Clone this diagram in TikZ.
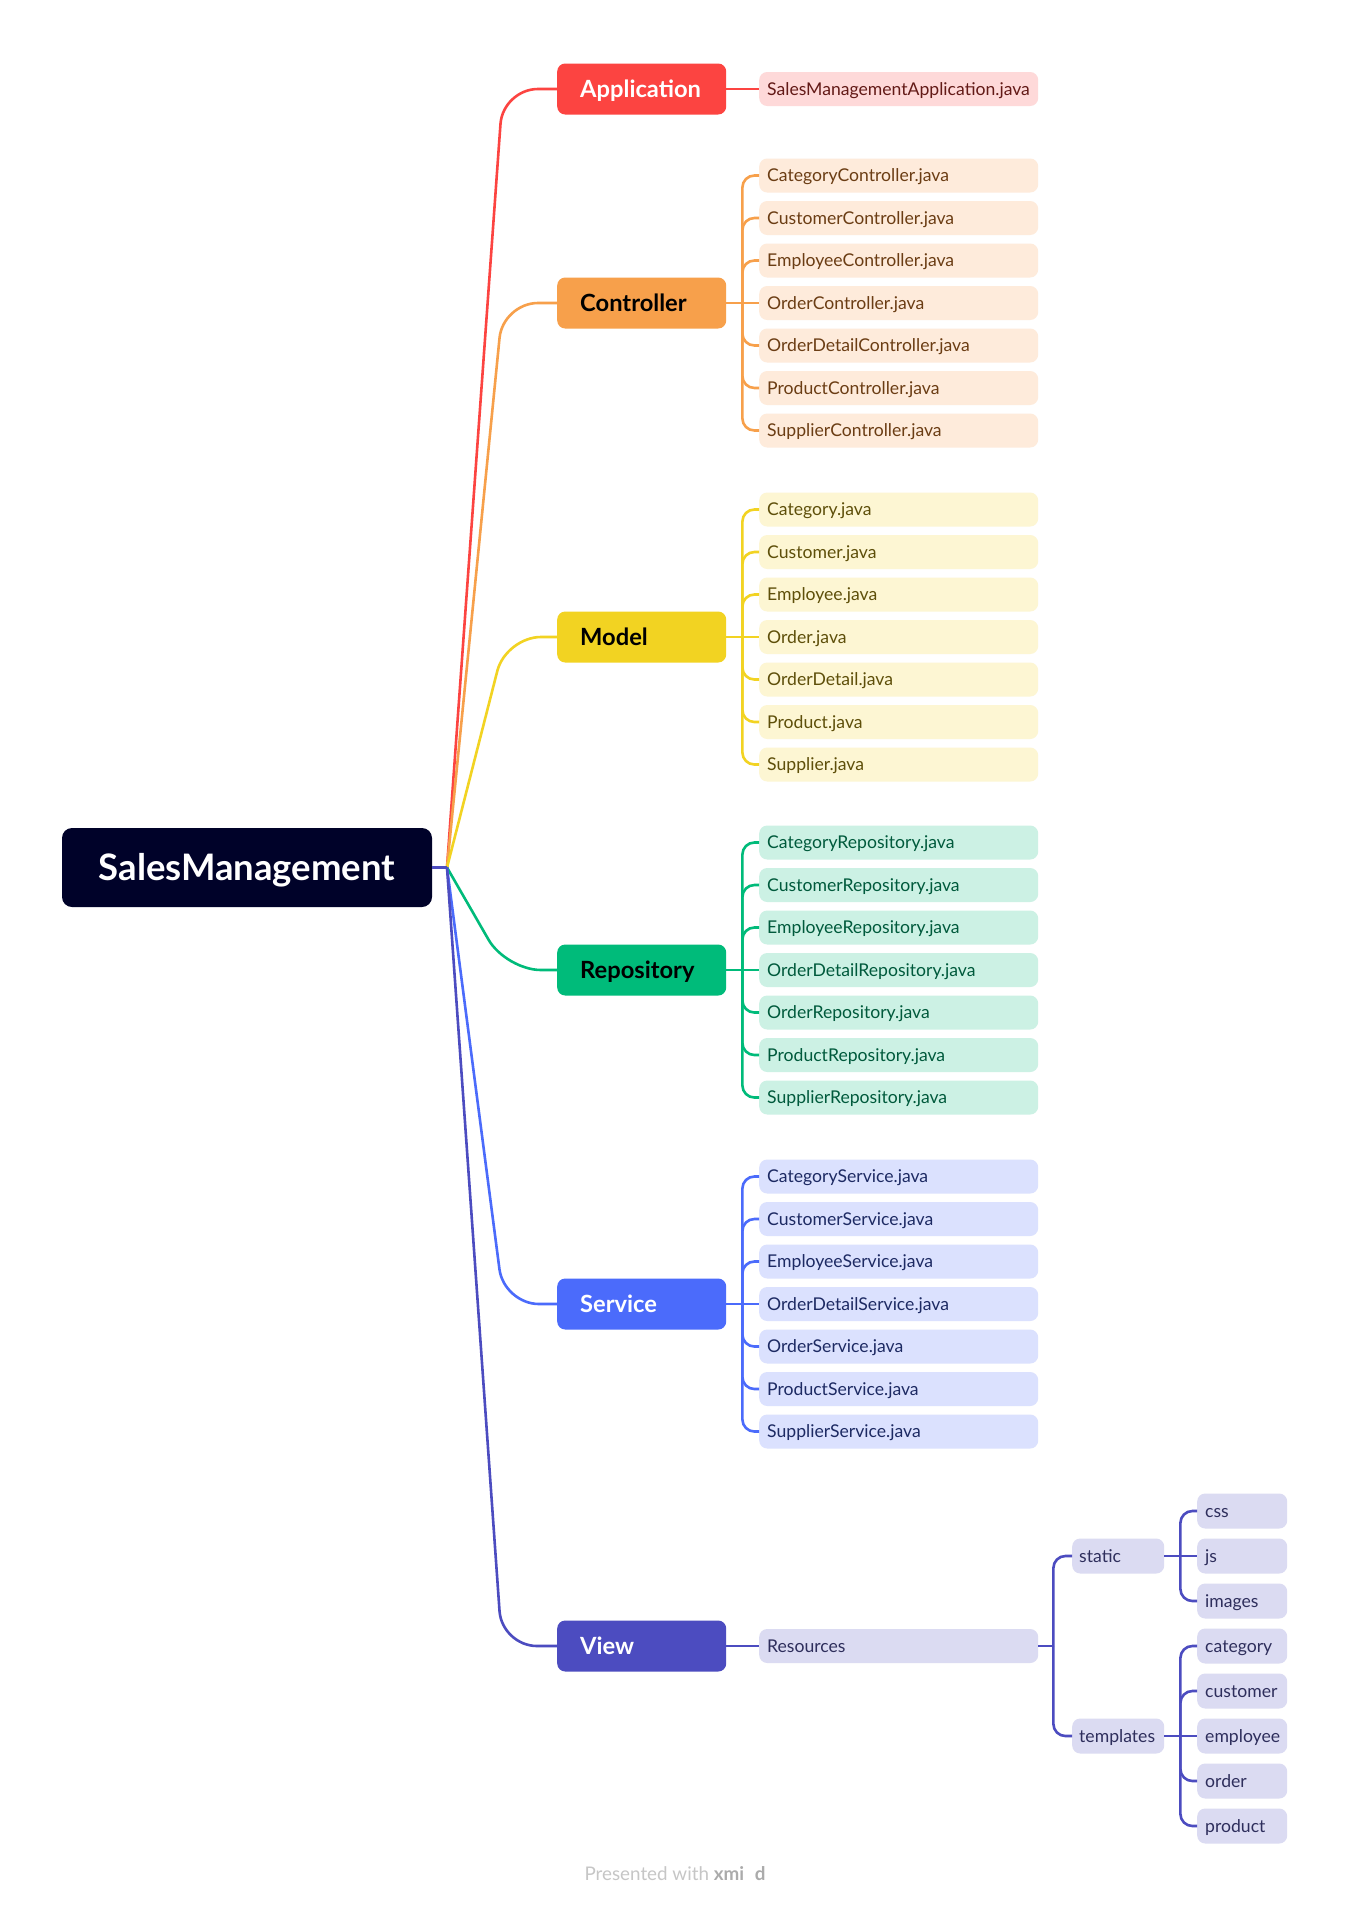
\documentclass[tikz,border=0pt]{standalone}
\usepackage{fontspec}
\setmainfont{Lato}
\usetikzlibrary{calc}

\definecolor{rootc}{HTML}{000229}
\definecolor{appc}{HTML}{FC4441}
\definecolor{appl}{HTML}{FED9D9}
\definecolor{appt}{HTML}{631A17}
\definecolor{ctrc}{HTML}{F7A04B}
\definecolor{ctrl}{HTML}{FEEBDB}
\definecolor{ctrt}{HTML}{6B3D14}
\definecolor{modc}{HTML}{F2D322}
\definecolor{modl}{HTML}{FDF6D3}
\definecolor{modt}{HTML}{5E4F0A}
\definecolor{repc}{HTML}{00BB7A}
\definecolor{repl}{HTML}{CCF1E4}
\definecolor{rept}{HTML}{005A3C}
\definecolor{serc}{HTML}{4B6BFB}
\definecolor{serl}{HTML}{DBE1FE}
\definecolor{sert}{HTML}{1D2A63}
\definecolor{vwc}{HTML}{4C4CC0}
\definecolor{vwl}{HTML}{DBDBF2}
\definecolor{vwt}{HTML}{2E2E5C}
\definecolor{footc}{HTML}{C6C6C6}
\definecolor{footb}{HTML}{ABABAB}

\newcommand{\mkgroup}[4]{%
  \coordinate (#1j) at ($(#1.east)+(16,0)$);
  \draw[twig,#3c] (#1.east) -- (#1j);
  \foreach \nm [count=\i] in {#4} {
    \node[leafbox, fill=#3l, text=#3t] (#1\i) at (759,{#2+(\i-4)*42.5}) {\nm};
    \ifnum\i=4
      \draw[twig,#3c] (#1j) -- (#1\i.west);
    \else
      \draw[twig,#3c] (#1j) |- (#1\i.west);
    \fi
  }
}

\begin{document}
\begin{tikzpicture}[x=1pt,y=-1pt,
  rootbox/.style={fill=rootc, rounded corners=10pt, minimum width=370pt,
    minimum height=79pt, inner sep=0pt, text=white,
    font=\fontsize{36.5}{40}\selectfont\bfseries, text height=26pt, text depth=0pt},
  mainbox/.style={rounded corners=8pt, minimum width=169pt, minimum height=51pt,
    inner xsep=23pt, inner ysep=0pt, text width=123pt, align=left, anchor=west,
    font=\fontsize{23.7}{26}\selectfont\bfseries, text height=17pt, text depth=0pt},
  leafbox/.style={rounded corners=8pt, minimum height=34pt, inner xsep=8pt,
    inner ysep=0pt, text width=263pt, align=left, anchor=west,
    font=\fontsize{17.6}{20}\selectfont, text height=12.6pt, text depth=0pt},
  midbox/.style={leafbox, inner xsep=7pt, text width=78pt, minimum height=35pt},
  tipbox/.style={leafbox, inner xsep=8pt, text width=74pt, minimum height=35pt},
  branch/.style={line width=2.6pt, rounded corners=35pt},
  twig/.style={line width=2.6pt, rounded corners=12pt}]

\useasboundingbox[fill=white] (0,0) rectangle (1350,1906);

% root
\node[rootbox] (root) at (247,867.5) {SalesManagement};
\coordinate (O) at (447,867.5);

% main topics
\node[mainbox, fill=appc, text=white] (app) at (557,89) {Application};
\node[mainbox, fill=ctrc, text=black] (ctr) at (557,303) {Controller};
\node[mainbox, fill=modc, text=black] (mod) at (557,637) {Model};
\node[mainbox, fill=repc, text=black] (rep) at (557,970) {Repository};
\node[mainbox, fill=serc, text=white] (ser) at (557,1304) {Service};
\node[mainbox, fill=vwc, text=white] (vw) at (557,1646) {View};

% branches from root
\draw[branch,appc] (O) -- (503,89) -- (app.west);
\draw[branch,ctrc] (O) -- (503,303) -- (ctr.west);
\draw[branch,modc] (O) -- (506,637) -- (mod.west);
\draw[branch,repc] (O) -- (506,970) -- (rep.west);
\draw[branch,serc] (O) -- (504,1304) -- (ser.west);
\draw[branch,vwc] (O) -- (502,1646) -- (vw.west);
\draw[line width=2.6pt,vwc] (root.east) -- (O);

% Application
\node[leafbox, fill=appl, text=appt] (app1) at (759,89) {SalesManagementApplication.java};
\draw[twig,appc] (app.east) -- (app1.west);

% groups
\mkgroup{ctr}{303}{ctr}{CategoryController.java,CustomerController.java,EmployeeController.java,OrderController.java,OrderDetailController.java,ProductController.java,SupplierController.java}
\mkgroup{mod}{637}{mod}{Category.java,Customer.java,Employee.java,Order.java,OrderDetail.java,Product.java,Supplier.java}
\mkgroup{rep}{970}{rep}{CategoryRepository.java,CustomerRepository.java,EmployeeRepository.java,OrderDetailRepository.java,OrderRepository.java,ProductRepository.java,SupplierRepository.java}
\mkgroup{ser}{1304}{ser}{CategoryService.java,CustomerService.java,EmployeeService.java,OrderDetailService.java,OrderService.java,ProductService.java,SupplierService.java}

% View
\node[leafbox, fill=vwl, text=vwt] (res) at (759,1646) {Resources};
\draw[twig,vwc] (vw.east) -- (res.west);
\node[midbox, fill=vwl, text=vwt] (stat) at (1072,1556) {static};
\node[midbox, fill=vwl, text=vwt] (tmpl) at (1072,1736) {templates};
\coordinate (resj) at ($(res.east)+(15,0)$);
\draw[twig,vwc] (res.east) -- (resj);
\draw[twig,vwc] (resj) |- (stat.west);
\draw[twig,vwc] (resj) |- (tmpl.west);

\node[tipbox, fill=vwl, text=vwt] (css) at (1197,1511) {css};
\node[tipbox, fill=vwl, text=vwt] (js) at (1197,1556) {js};
\node[tipbox, fill=vwl, text=vwt] (img) at (1197,1601) {images};
\coordinate (statj) at ($(stat.east)+(16,0)$);
\draw[twig,vwc] (stat.east) -- (js.west);
\draw[twig,vwc] (statj) |- (css.west);
\draw[twig,vwc] (statj) |- (img.west);

\node[tipbox, fill=vwl, text=vwt] (cat) at (1197,1646) {category};
\node[tipbox, fill=vwl, text=vwt] (cus) at (1197,1691) {customer};
\node[tipbox, fill=vwl, text=vwt] (emp) at (1197,1736) {employee};
\node[tipbox, fill=vwl, text=vwt] (ord) at (1197,1781) {order};
\node[tipbox, fill=vwl, text=vwt] (prd) at (1197,1826) {product};
\coordinate (tmplj) at ($(tmpl.east)+(16,0)$);
\draw[twig,vwc] (tmpl.east) -- (emp.west);
\draw[twig,vwc] (tmplj) |- (cat.west);
\draw[twig,vwc] (tmplj) |- (cus.west);
\draw[twig,vwc] (tmplj) |- (ord.west);
\draw[twig,vwc] (tmplj) |- (prd.west);

% footer
\node[font=\fontsize{18.8}{22}\selectfont, text=footc, inner sep=0pt] (foot) at (675,1874)
  {Presented with \textcolor{footb}{\bfseries xmi\phantom{n}d}};

\end{tikzpicture}
\end{document}
